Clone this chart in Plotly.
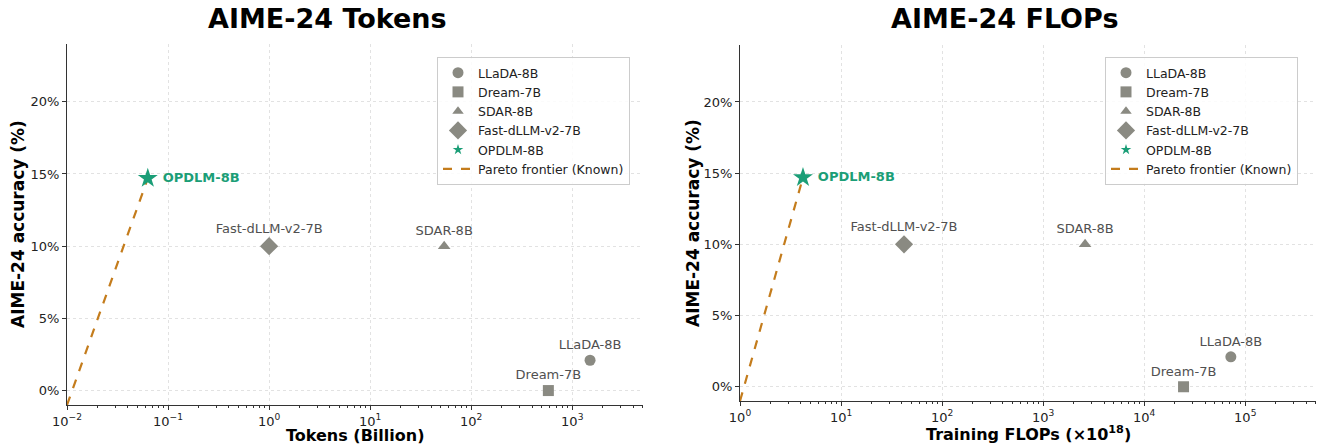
import plotly.graph_objects as go

# ---------------- data ----------------
models = ["LLaDA-8B", "Dream-7B", "SDAR-8B", "Fast-dLLM-v2-7B", "OPDLM-8B"]
symbols = ["circle", "square", "triangle-up", "diamond", "star"]
accuracy = [2.1, 0.0, 10.0, 10.0, 14.7]          # AIME-24 accuracy (%)
tokens_billion = [1500, 580, 54, 1.0, 0.063]     # training tokens (B)
flops_e18 = [72000, 24500, 2600, 42, 4.2]        # training FLOPs (x1e18)

pareto_tokens_x = [0.01, 0.063]
pareto_flops_x = [1.0, 4.2]
pareto_y = [-1.0, 14.7]

titles = ["AIME-24 Tokens", "AIME-24 FLOPs"]
xtitles = ["Tokens (Billion)", "Training FLOPs (×10<sup>18</sup>)"]
ytitle = "AIME-24 accuracy (%)"
y_ticks = [0, 5, 10, 15, 20]
y_ticktext = ["0%", "5%", "10%", "15%", "20%"]
x_exps_tokens = [-2, -1, 0, 1, 2, 3]
x_exps_flops = [0, 1, 2, 3, 4, 5]

# ---------------- style ----------------
FONT = "DejaVu Sans"
GRAY = "#8a8a82"
LABEL_GRAY = "#505050"
GREEN = "#1b9e77"
ORANGE = "#c47c1c"
AXIS = "#333333"

W, H = 1320, 444
ML, MR, MT, MB = 67, 4, 44, 39
PW, PH = W - ML - MR, H - MT - MB

def px_x(px):
    return (px - ML) / PW

def px_y(py):
    return (H - MB - py) / PH

def sup(e):
    return "10<sup>" + str(e).replace("-", "−") + "</sup>"

sizes = [11, 11, 11, 14, 15]
legend_sizes = [11, 11, 10, 14, 8]

fig = go.Figure()

panels = [
    dict(xs=tokens_billion, px=pareto_tokens_x, xa="x", ya="y", legend="legend"),
    dict(xs=flops_e18, px=pareto_flops_x, xa="x2", ya="y2", legend="legend2"),
]

for p in panels:
    for i, m in enumerate(models[:4]):
        fig.add_trace(go.Scatter(
            x=[p["xs"][i]], y=[accuracy[i]], mode="markers+text",
            text=[m], textposition="top center",
            textfont=dict(family=FONT, size=13, color=LABEL_GRAY),
            marker=dict(symbol=symbols[i], size=sizes[i], color=GRAY,
                        line=dict(width=0)),
            name=m, xaxis=p["xa"], yaxis=p["ya"], legend=p["legend"],
            showlegend=False, cliponaxis=False))
    # legend entries
    for i, m in enumerate(models):
        col = GREEN if i == 4 else GRAY
        fig.add_trace(go.Scatter(
            x=[None], y=[None], mode="markers",
            marker=dict(symbol=symbols[i], size=legend_sizes[i], color=col,
                        line=dict(width=0)),
            name=m, xaxis=p["xa"], yaxis=p["ya"], legend=p["legend"]))
    fig.add_trace(go.Scatter(
        x=p["px"], y=pareto_y, mode="lines",
        line=dict(color=ORANGE, width=2.2, dash="dash"),
        name="Pareto frontier (Known)", xaxis=p["xa"], yaxis=p["ya"],
        legend=p["legend"]))
    fig.add_trace(go.Scatter(
        x=[p["xs"][4]], y=[accuracy[4]], mode="markers+text",
        text=[" " + models[4]], textposition="middle right",
        textfont=dict(family=FONT, size=13, color=GREEN, weight="bold"),
        marker=dict(symbol="star", size=sizes[4], color=GREEN, line=dict(width=0)),
        xaxis=p["xa"], yaxis=p["ya"], showlegend=False, cliponaxis=False))

common_x = dict(type="log", showline=True,
                linecolor=AXIS, linewidth=1, ticks="outside", ticklen=4,
                tickcolor=AXIS, showgrid=True, gridcolor="#e2e2e2",
                griddash="3px,3px", gridwidth=0.8, zeroline=False,
                tickfont=dict(family=FONT, size=13, color="#222"),
                minor=dict(ticks="outside", ticklen=2, tickcolor=AXIS,
                           dtick="D1", showgrid=False))
common_y = dict(range=[-1, 24], tickvals=y_ticks, ticktext=y_ticktext,
                showline=True, linecolor=AXIS, linewidth=1, ticks="outside",
                ticklen=4, tickcolor=AXIS, showgrid=True, gridcolor="#e2e2e2",
                griddash="3px,3px", gridwidth=0.8, zeroline=False,
                tickfont=dict(family=FONT, size=13, color="#222"))

legend_common = dict(xanchor="right", yanchor="top",
                     bgcolor="rgba(255,255,255,0.85)", bordercolor="#cccccc",
                     borderwidth=1, font=dict(family=FONT, size=12.5, color="#222"))

fig.update_layout(
    width=W, height=H, margin=dict(l=ML, r=MR, t=MT, b=MB),
    paper_bgcolor="white", plot_bgcolor="white",
    font=dict(family=FONT, color="#222"),
    xaxis=dict(common_x, domain=[0, px_x(643)], range=[-2, 3.7], anchor="y",
               tickvals=[10 ** e for e in x_exps_tokens],
               ticktext=[sup(e) for e in x_exps_tokens]),
    yaxis=dict(common_y, domain=[0, 1], anchor="x"),
    xaxis2=dict(common_x, domain=[px_x(740), 1], range=[0, 5.7], anchor="y2",
                tickvals=[10 ** e for e in x_exps_flops],
                ticktext=[sup(e) for e in x_exps_flops]),
    yaxis2=dict(common_y, domain=[px_y(401), px_y(45)], anchor="x2"),
    legend=dict(legend_common, x=px_x(630), y=px_y(57)),
    legend2=dict(legend_common, x=px_x(1298), y=px_y(57)),
)

ann = []
for t, cx in zip(titles, [327, 1004]):
    ann.append(dict(text=f"<b>{t}</b>", x=px_x(cx), y=px_y(18), xref="paper",
                    yref="paper", showarrow=False, xanchor="center",
                    yanchor="middle", font=dict(family=FONT, size=27, color="#000")))
for t, cx, cy in zip(xtitles, [355, 1028], [435, 433]):
    ann.append(dict(text=f"<b>{t}</b>", x=px_x(cx), y=px_y(cy), xref="paper",
                    yref="paper", showarrow=False, xanchor="center",
                    yanchor="middle", font=dict(family=FONT, size=16, color="#000")))
for cx, cy in zip([18, 693], [224, 223]):
    ann.append(dict(text=f"<b>{ytitle}</b>", x=px_x(cx), y=px_y(cy), xref="paper",
                    yref="paper", showarrow=False, xanchor="center",
                    yanchor="middle", textangle=-90,
                    font=dict(family=FONT, size=17, color="#000")))
fig.update_layout(annotations=ann)

fig.write_html("out.html", config={"displayModeBar": False},
               post_script="document.body.style.margin='0px';document.body.style.overflow='hidden';")
